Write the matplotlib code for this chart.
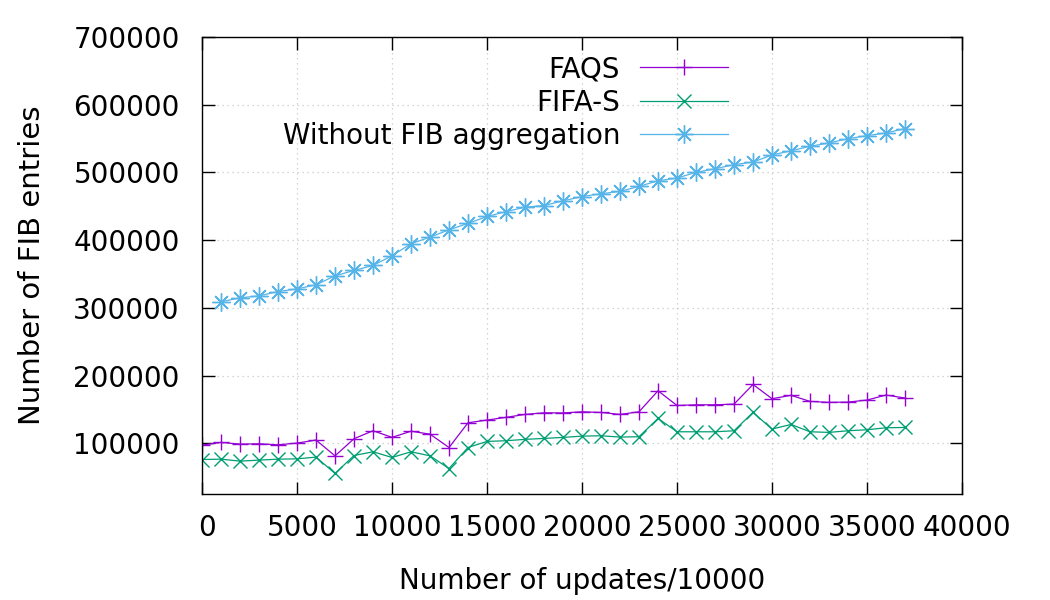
import numpy as np
import matplotlib.pyplot as plt
import matplotlib.transforms as mtransforms


updates = np.arange(0, 38000, 1000)

faqs = [97500, 101500, 99000, 99500, 98000, 100500, 105000, 81700, 107000, 118700,
        109000, 118000, 113700, 94000, 130500, 134500, 138500, 142800, 145200, 145000,
        146700, 145700, 142800, 146700, 177700, 156000, 157000, 157000, 158000, 187000,
        166000, 171000, 162000, 160600, 161000, 164000, 171400, 167000]

fifa_s = [76300, 76800, 73900, 75400, 76800, 77300, 79800, 55700, 82200, 87700,
          79300, 87700, 81700, 63000, 94000, 103000, 104000, 106000, 107400, 108900,
          110800, 111300, 109400, 109900, 136900, 117200, 117200, 117200, 118700, 145800,
          121200, 128000, 117200, 116300, 118700, 120200, 123100, 123600]

no_aggr_x = updates[1:]
no_aggr = [308900, 314800, 317700, 324100, 328000, 334000, 347300, 355200, 362600,
           376900, 394600, 404400, 415200, 424600, 434800, 442000, 448500, 451000,
           457900, 464200, 468400, 471800, 479200, 487600, 491500, 499900, 505300,
           511200, 515200, 525500, 531800, 538300, 543300, 549600, 554100, 558000,
           564500]

labels = ['FAQS', 'FIFA-S', 'Without FIB aggregation']
colors = ['#9400d3', '#009e73', '#56b4e9']

plt.rcParams['font.family'] = 'DejaVu Sans'
plt.rcParams['font.size'] = 20

fig = plt.figure(figsize=(10.5, 6), dpi=100)
ax = fig.add_axes([0.1924, 0.1762, 0.7238, 0.7626])

ax.plot(updates, faqs, color=colors[0], lw=0.9, marker='+', ms=11, mew=1.0,
        label=labels[0])
ax.plot(updates, fifa_s, color=colors[1], lw=0.9, marker='x', ms=9.5, mew=1.0,
        label=labels[1])
ax.plot(no_aggr_x, no_aggr, color=colors[2], lw=0.9, marker=(8, 2, 0), ms=13,
        mew=1.0, label=labels[2])

ax.set_xlim(0, 40000)
ax.set_ylim(25000, 700000)
ax.set_xticks(np.arange(0, 40001, 5000))
ax.set_yticks(np.arange(100000, 700001, 100000))

ax.grid(True, color='#c8c8c8', linestyle=(0, (1, 3)), lw=0.9)
ax.tick_params(direction='in', length=9, width=1, top=True, right=True,
               colors='black')
ax.tick_params(axis='x', pad=14)
ax.tick_params(axis='y', pad=16)
for sp in ax.spines.values():
    sp.set_linewidth(1.0)

# gnuplot puts x tick labels a bit to the right
offset = mtransforms.ScaledTranslation(5 / 100, 0, fig.dpi_scale_trans)
for lab in ax.get_xticklabels():
    lab.set_transform(lab.get_transform() + offset)

ax.set_xlabel('Number of updates/10000', labelpad=18)
ax.set_ylabel('Number of FIB entries', labelpad=20, fontsize=21)

ax.legend(loc='upper right', bbox_to_anchor=(0.70, 0.972), frameon=False,
          markerfirst=False, handlelength=3.2, handletextpad=0.7,
          labelspacing=0.2, borderaxespad=0, borderpad=0.2, fontsize=20)

fig.savefig('out.png', dpi=100)
